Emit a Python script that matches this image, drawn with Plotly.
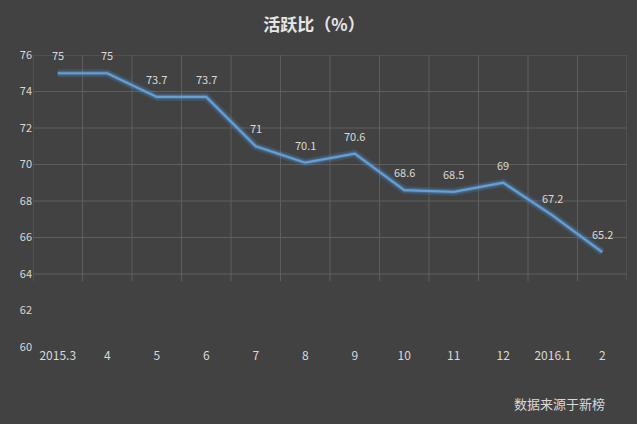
import plotly.graph_objects as go

categories = ["2015.3", "4", "5", "6", "7", "8", "9", "10", "11", "12", "2016.1", "2"]
values = [75, 75, 73.7, 73.7, 71, 70.1, 70.6, 68.6, 68.5, 69, 67.2, 65.2]
y_ticks = [60, 62, 64, 66, 68, 70, 72, 74, 76]

BG = "#424242"
TXT = "#d9d9d9"
GRID = "#5e5e5e"
FONT = "Noto Sans CJK SC, Noto Sans, sans-serif"
GRID_FLOOR = 63.6  # gridlines fade out below this level

fig = go.Figure()
# glow
fig.add_trace(go.Scatter(x=categories, y=values, mode="lines",
                         line=dict(color="rgba(80,150,215,0.18)", width=8),
                         hoverinfo="skip", showlegend=False))
fig.add_trace(go.Scatter(x=categories, y=values, mode="lines",
                         line=dict(color="rgba(80,150,215,0.35)", width=4.5),
                         hoverinfo="skip", showlegend=False))
fig.add_trace(go.Scatter(x=categories, y=values, mode="lines",
                         line=dict(color="#649fd6", width=2.2),
                         showlegend=False))

for i, v in enumerate(values):
    fig.add_annotation(x=i, y=v, text=f"{v:g}", showarrow=False, yshift=18,
                       font=dict(color=TXT, size=11, family=FONT))

fig.update_layout(
    width=637, height=424,
    paper_bgcolor=BG, plot_bgcolor=BG,
    margin=dict(l=33, r=10, t=55, b=77),
    title=dict(text="<b>活跃比（%）</b>", x=0.493, xanchor="center", y=0.942, yanchor="middle",
               font=dict(color="#e6e6e6", size=17, family=FONT)),
    font=dict(family=FONT, color=TXT),
    xaxis=dict(type="category", showgrid=False, tickfont=dict(size=12, color=TXT),
               ticks="", showline=False, zeroline=False, range=[-0.5, 11.5]),
    yaxis=dict(range=[60, 76], tickvals=y_ticks, showgrid=False,
               tickfont=dict(size=11, color=TXT), zeroline=False,
               showline=False, ticks=""),
)

# horizontal gridlines (only upper part visible, as in the original)
for t in y_ticks:
    if t >= GRID_FLOOR:
        fig.add_shape(type="line", xref="paper", yref="y", x0=0, x1=1, y0=t, y1=t,
                      line=dict(color=GRID, width=1), layer="below")

# vertical gridlines at category boundaries
for i in range(len(categories) + 1):
    fig.add_shape(type="line", xref="x", yref="y", x0=i - 0.5, x1=i - 0.5,
                  y0=GRID_FLOOR, y1=max(y_ticks),
                  line=dict(color=GRID, width=1), layer="below")

fig.add_annotation(text="数据来源于新榜", xref="paper", yref="paper", x=0.966, y=-0.192,
                   xanchor="right", yanchor="middle", showarrow=False,
                   font=dict(color=TXT, size=13, family=FONT))

fig.write_html("out.html", config={"displayModeBar": False},
               post_script="document.body.style.margin='0';document.body.style.overflow='hidden';")
